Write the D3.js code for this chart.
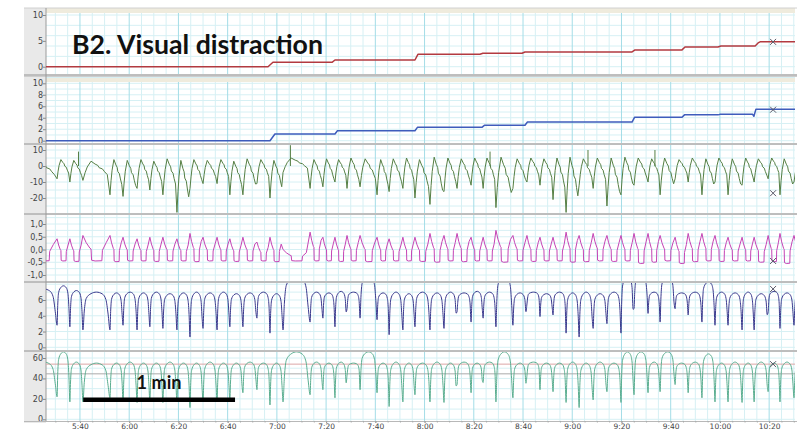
<!DOCTYPE html>
<html><head><meta charset="utf-8">
<script src="https://cdn.jsdelivr.net/npm/d3@7"></script>
<style>body{margin:0;background:#fff}svg{display:block}</style>
</head><body>
<svg id="chart" width="797" height="431"></svg>
<script>
// ---------------- DATA ----------------
const xTickSeconds = [340,360,380,400,420,440,460,480,500,520,540,560,580,600,620];
const xTickLabels = ["5:40","6:00","6:20","6:40","7:00","7:20","7:40","8:00","8:20","8:40","9:00","9:20","9:40","10:00","10:20"];

// step traces: [seconds, value]
const redSteps = [[320,0],[416.4,0],[418.4,0.85],[442.4,0.85],[443.6,1.3],[476.1,1.3],[477.3,2.4],[502.5,2.4],[503.7,2.6],[519.6,2.6],[520.8,2.85],[564.3,2.85],[565.5,3.25],[584.6,3.25],[585.8,3.8],[599.2,3.8],[600.4,4.0],[614.3,4.0],[615.5,4.6],[616.5,4.85],[636,4.85]];
const blueSteps = [[320,0],[417.2,0],[419.2,1.17],[443.6,1.17],[444.6,1.74],[476.1,1.74],[477.1,2.33],[503.3,2.33],[504.3,2.68],[520.8,2.68],[521.8,3.25],[564.3,3.25],[565.3,4.07],[584.6,4.07],[585.6,4.5],[599.2,4.5],[600.2,4.6],[613.3,4.6],[613.8,4.25],[614.6,5.46],[636,5.46]];

// breathing cycles: trough times (seconds)
const cycleTimes = [320,330.7,335.9,341.2,352.2,357.5,363.2,368.4,373.7,379.4,384.7,390.0,395.7,400.9,406.2,411.9,417.2,422.5,433.5,438.7,443.6,448.5,453.8,460.7,465.6,471.2,476.1,482.2,487.9,493.2,498.9,503.8,509.0,515.9,521.6,526.9,532.2,537.5,542.8,548.5,554.1,559.8,565.1,570.8,575.7,581.8,587.1,592.7,598.0,603.3,609.0,613.9,619.6,624.4,630.1,636];

const greenTrough = [-9,-8,-10,-9,-18,-19,-14,-15,-18,-29,-14,-11,-11,-18,-18,-11,-20,-4,-14,-13,-10,-14,-13,-18,-16,-14,-20,-24,-16,-14,-12,-14,-26,-14,-10,-12,-21,-29,-12,-14,-25,-18,-12,-10,-18,-8,-10,-18,-10,-18,-12,-10,-8,-18,-10,-10];
const greenPeak   = [3,4,3.5,3,4,3.5,4,3,4.5,3.5,4,3.5,4,3,4.5,4,3.5,5,4,4.5,4,5,4.5,4,4.5,5,4,5.5,5,4.5,5,5,5.5,4.5,5,4.5,5,5.5,4.5,5,5,5.5,5,4.5,5,4,5,4.5,5,4.5,5,4.5,5,4.5,3,3];
const magPeak     = [0.45,0.42,0.42,0.55,0.55,0.48,0.42,0.48,0.48,0.42,0.63,0.48,0.48,0.42,0.48,0.29,0.48,0.0,0.68,0.48,0.48,0.55,0.55,0.48,0.42,0.48,0.48,0.63,0.55,0.63,0.48,0.48,0.75,0.55,0.55,0.48,0.48,0.68,0.55,0.63,0.55,0.55,0.63,0.63,0.55,0.48,0.63,0.63,0.55,0.48,0.48,0.48,0.55,0.63,0.55,0.5];
const magTrough   = [-0.45,-0.45,-0.47,-0.45,-0.48,-0.45,-0.45,-0.47,-0.45,-0.45,-0.48,-0.45,-0.45,-0.47,-0.45,-0.45,-0.48,-0.45,-0.45,-0.45,-0.47,-0.45,-0.48,-0.45,-0.45,-0.45,-0.47,-0.5,-0.45,-0.48,-0.45,-0.45,-0.5,-0.45,-0.47,-0.45,-0.45,-0.5,-0.48,-0.45,-0.47,-0.45,-0.55,-0.5,-0.45,-0.55,-0.48,-0.45,-0.47,-0.45,-0.45,-0.5,-0.48,-0.55,-0.45,-0.45];
const navyTrough  = [2.5,2.8,2.6,2.2,2.2,2.8,2.2,2.6,2.4,2.2,1.3,2.4,2.2,2.6,2.6,3.7,1.8,2.2,3.2,3.7,2.6,4.9,3.7,3.5,1.6,2.2,2.6,2.2,2.4,4.5,3.2,3.7,2.6,2.8,5.5,3.9,4.1,1.8,1.3,2.4,3.0,1.8,4.9,4.3,3.2,4.9,4.1,3.2,2.8,2.8,2.2,2.2,4.5,2.4,2.8,2.6];
const navyPeak    = [7.4,7.8,7.2,7.0,6.9,7.0,6.9,7.0,6.8,6.9,7.0,6.9,7.0,6.8,6.9,7.0,6.8,9,7.0,6.9,7.1,7.0,9,6.9,7.0,6.8,7.0,6.9,7.0,6.9,7.1,7.0,9,6.9,7.0,6.8,7.0,6.9,7.0,6.8,7.0,9,9,7.0,9,6.9,7.0,8.3,7.0,6.9,7.0,6.8,7.1,6.9,7.0,7.0];
const tealTrough  = [20,22,17,17,21,17,16.5,17,16.5,17,11.5,17,17,18,26,29,14,17,24,29,21,43,29,26,12.5,17,24,17,16.5,34,26,36,17,21,43,29,27,16.5,11.5,19,27,16.5,24,26,27,34,26,21,17,17,16.5,17,27,17,21,20];
const tealPeak    = [56,66,56,55,55,56,55,55,56,55,55,56,55,55,56,55,55,66,56,55,56,55,66,55,56,55,55,56,55,56,55,56,66,55,56,55,55,56,55,56,55,66,66,56,66,55,56,64,55,56,55,56,55,56,55,55];

// green spikes [seconds, value]
const greenSpikes = [[339.4,9],[425.5,13],[506.6,9],[546.4,10],[573.6,10]];
const tealRefHigh = 54, tealRefLow = 44.5;
const cursorTime = 621.6;
const cursorValues = [4.8, 5.4, -17, -0.45, 7.4, 54];
const scaleBar = [341.3, 403.0];

// ---------------- LAYOUT ----------------
const svg = d3.select("#chart");
const X0 = 46, X1 = 795;
const x = d3.scaleLinear().domain([326.2, 630.5]).range([X0, X1]);

const panels = [
  {top:8,  bottom:74,  dom:[0,10],  rng:[66.7,15],  ticks:[0,5,10], grid:2, beige:true, fmt:d=>d},
  {top:77, bottom:143, dom:[0,10],  rng:[140.7,83.3], ticks:[0,2,4,6,8,10], grid:1, beige:true, fmt:d=>d},
  {top:145,bottom:213, dom:[-20,10],rng:[198,150], ticks:[-20,-10,0,10], grid:5, fmt:d=>d},
  {top:215,bottom:281, dom:[-1,1],  rng:[275,224], ticks:[-1,-0.5,0,0.5,1], grid:0.25, fmt:d=>d3.format(".1f")(d).replace(".",",").replace("−","-")},
  {top:283,bottom:350, dom:[0,6],   rng:[347.3,300], ticks:[0,2,4,6], grid:1, fmt:d=>d},
  {top:352,bottom:421, dom:[0,60],  rng:[419.3,358], ticks:[0,20,40,60], grid:10, fmt:d=>d}
];
panels.forEach(p=>{ p.y = d3.scaleLinear().domain(p.dom).range(p.rng); });

svg.append("rect").attr("x",24).attr("y",8).attr("width",X0-24).attr("height",423-8).attr("fill","#e9e9e9");

const defs = svg.append("defs");
panels.forEach((p,i)=>{
  defs.append("clipPath").attr("id","clip"+i).append("rect")
    .attr("x",X0).attr("y",p.top).attr("width",X1-X0).attr("height",p.bottom-p.top);
  const g = svg.append("g");
  if (p.beige) g.append("rect").attr("x",X0).attr("y",p.top).attr("width",X1-X0).attr("height",5).attr("fill","#efebdd");
  const lo = Math.min(p.y.invert(p.bottom), p.y.invert(p.top)), hi = Math.max(p.y.invert(p.bottom), p.y.invert(p.top));
  const hg = d3.range(Math.ceil(lo/p.grid)*p.grid, hi, p.grid);
  g.selectAll(null).data(hg).join("line")
    .attr("x1",X0).attr("x2",X1).attr("y1",d=>p.y(d)).attr("y2",d=>p.y(d))
    .attr("stroke","#d6f0f4").attr("stroke-width",1);
  g.selectAll(null).data(d3.range(330,631,5)).join("line")
    .attr("x1",d=>x(d)).attr("x2",d=>x(d)).attr("y1",p.top+(p.beige?5:0)).attr("y2",p.bottom)
    .attr("stroke",d=>(d%20===0)?"#a4dde7":"#d6f0f4").attr("stroke-width",1);
  const ax = svg.append("g").attr("transform",`translate(${X0},0)`)
    .call(d3.axisLeft(p.y).tickValues(p.ticks).tickSize(3).tickFormat(p.fmt));
  ax.select(".domain").remove();
  ax.selectAll("line").attr("stroke","#888");
  ax.selectAll("text").attr("font-family","DejaVu Sans").attr("font-size",8).attr("fill","#444").attr("x",-3);
});

const seps = [74,143,213,281,350];
seps.forEach((s,i)=>{
  svg.append("rect").attr("x",24).attr("y",s).attr("width",797-24).attr("height",panels[i+1].top-s).attr("fill","#cdcdcd");
  svg.append("line").attr("x1",24).attr("x2",797).attr("y1",s+1).attr("y2",s+1).attr("stroke","#aeaeae");
});
svg.append("line").attr("x1",24).attr("x2",797).attr("y1",421.5).attr("y2",421.5).attr("stroke","#b8b8b8");
svg.append("line").attr("x1",24).attr("x2",797).attr("y1",8).attr("y2",8).attr("stroke","#d0d0d0");
svg.append("line").attr("x1",X0).attr("x2",X0).attr("y1",8).attr("y2",421).attr("stroke","#9a9a9a");

const xa = svg.append("g").attr("transform","translate(0,421)")
  .call(d3.axisBottom(x).tickValues(xTickSeconds).tickSize(2).tickFormat((d,i)=>xTickLabels[i]));
xa.select(".domain").remove();
xa.selectAll("line").attr("stroke","#888");
xa.selectAll("text").attr("font-family","DejaVu Sans").attr("font-size",7.5).attr("fill","#444").attr("y",3);
svg.append("g").attr("transform","translate(0,421)")
  .call(d3.axisBottom(x).tickValues(d3.range(330,631,5)).tickSize(1.5).tickFormat(""))
  .call(a=>{a.select(".domain").remove(); a.selectAll("line").attr("stroke","#aaa");});

// ---------------- TRACES ----------------
function wave(trough, peak, tmpl, offset){
  const pts=[];
  for(let i=0;i<cycleTimes.length-1;i++){
    const T=cycleTimes[i]+offset, P=cycleTimes[i+1]-cycleTimes[i];
    tmpl.forEach(([f,l])=>pts.push([T+f*P, trough[i]+l*(peak[i]-trough[i])]));
  }
  return pts;
}
const navyShape = [[0,0],[0.05,0.5],[0.12,0.83],[0.3,0.96],[0.5,1],[0.72,0.95],[0.85,0.8],[0.93,0.42]];
const greenShape = [[0,0],[0.08,0.4],[0.16,0.7],[0.3,1],[0.45,0.85],[0.55,0.78],[0.6,0.66],[0.72,0.6],[0.8,0.45],[0.9,0.3]];
const magShape = [[0,1],[0.12,0.72],[0.26,0.5],[0.3,0.47],[0.32,0.03],[0.45,0],[0.7,0.01],[0.72,0.42],[0.86,0.72]];

function drawLine(i, data, color, w, curve){
  const p = panels[i];
  svg.append("path").attr("clip-path",`url(#clip${i})`).datum(data)
    .attr("fill","none").attr("stroke",color).attr("stroke-width",w||1).attr("stroke-linejoin","round")
    .attr("d", d3.line().curve(curve||d3.curveLinear).x(d=>x(d[0])).y(d=>p.y(d[1])));
}
drawLine(0, redSteps, "#b33a40", 1.5);
drawLine(1, blueSteps, "#3e5cbc", 1.5);
drawLine(2, wave(greenTrough, greenPeak, greenShape, 0), "#557f44", 1);
greenSpikes.forEach(s=>drawLine(2, [[s[0],0],[s[0],s[1]]], "#557f44", 1));
drawLine(3, wave(magTrough, magPeak, magShape, 0), "#c544b5", 1);
drawLine(4, wave(navyTrough, navyPeak, navyShape, 0), "#3a3a8e", 1, d3.curveMonotoneX);
[[tealRefHigh,"#dca6a6"],[tealRefLow,"#ababab"]].forEach(([v,c])=>
  svg.append("line").attr("x1",X0).attr("x2",X1).attr("y1",panels[5].y(v)).attr("y2",panels[5].y(v)).attr("stroke",c).attr("stroke-width",1));
drawLine(5, wave(tealTrough, tealPeak, navyShape, 0), "#5aae90", 1, d3.curveMonotoneX);

cursorValues.forEach((v,i)=>{
  const cx=x(cursorTime), cy=panels[i].y(v);
  svg.append("path").attr("d",`M${cx-3},${cy-3}L${cx+3},${cy+3}M${cx-3},${cy+3}L${cx+3},${cy-3}`)
    .attr("stroke","#5a5a6a").attr("stroke-width",1);
});

const title = svg.append("text").attr("x",72).attr("y",53.5).attr("font-family","Lato")
  .attr("font-weight",700).attr("font-size",24).attr("fill","#111").text("B2. Visual distraction");
const tw = title.node().getComputedTextLength();
title.attr("font-size", 24*251/tw);

svg.append("rect").attr("x",x(scaleBar[0])).attr("y",397.5).attr("width",x(scaleBar[1])-x(scaleBar[0])).attr("height",4.5).attr("fill","#000");
const sb = svg.append("text").attr("x",(x(scaleBar[0])+x(scaleBar[1]))/2).attr("y",388.5).attr("text-anchor","middle")
  .attr("font-family","Lato").attr("font-weight",700).attr("font-size",15).attr("fill","#111").text("1 min");
const sw = sb.node().getComputedTextLength(); sb.attr("font-size",15*45/sw);
</script>
</body></html>
